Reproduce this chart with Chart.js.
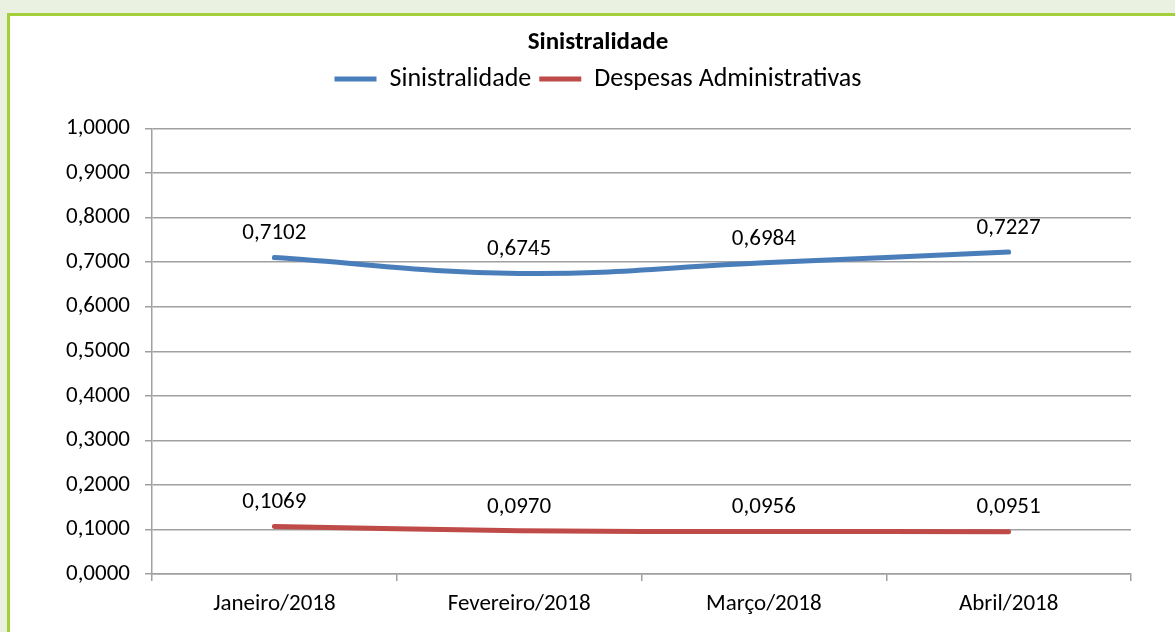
<!DOCTYPE html>
<html>
<head>
<meta charset="utf-8">
<script src="https://cdn.jsdelivr.net/npm/chart.js@4/dist/chart.umd.min.js"></script>
<style>
  html, body { margin: 0; padding: 0; }
  body { width: 1175px; height: 632px; background: #ebf1e0; overflow: hidden; position: relative; }
  .panel {
    position: absolute; left: 7px; top: 13px; width: 1200px; height: 660px;
    background: #fff; border: 3px solid #a3cf3a; border-right: none; border-bottom: none;
  }
  #chart { position: absolute; left: 0; top: 0; }
</style>
</head>
<body>
<div class="panel"></div>
<canvas id="chart" width="1175" height="632"></canvas>
<script>
const months = ['Janeiro/2018', 'Fevereiro/2018', 'Março/2018', 'Abril/2018']
const sinistralidade = [0.7102, 0.6745, 0.6984, 0.7227]
const despesasAdm = [0.1069, 0.0970, 0.0956, 0.0951]
const yTicks = [0, 0.1, 0.2, 0.3, 0.4, 0.5, 0.6, 0.7, 0.8, 0.9, 1.0]

const fontFamily = "Carlito, Lato, sans-serif"
const fmt = v => v.toFixed(4).replace('.', ',')

// data labels above each point, Excel style
const pointLabels = {
    id: 'pointLabels',
    afterDatasetsDraw(chart) {
        const ctx = chart.ctx
        ctx.save()
        ctx.font = `23px ${fontFamily}`
        ctx.fillStyle = '#000'
        ctx.textAlign = 'center'
        ctx.textBaseline = 'middle'
        chart.data.datasets.forEach((ds, i) => {
            chart.getDatasetMeta(i).data.forEach((pt, j) => {
                ctx.fillText(fmt(ds.data[j]), pt.x, pt.y - 24)
            })
        })
        ctx.restore()
    }
}

const ctx = document.getElementById('chart').getContext('2d')
new Chart(ctx, {
    type: 'line',
    data: {
        labels: months,
        datasets: [{
            label: 'Sinistralidade',
            data: sinistralidade,
            borderColor: '#4a7ebb',
            backgroundColor: '#4a7ebb',
            borderWidth: 5,
            borderCapStyle: 'round',
            tension: 0.4,
            pointRadius: 0
        }, {
            label: 'Despesas Administrativas',
            data: despesasAdm,
            borderColor: '#be4b48',
            backgroundColor: '#be4b48',
            borderWidth: 5,
            borderCapStyle: 'round',
            tension: 0.4,
            pointRadius: 0
        }]
    },
    options: {
        responsive: false,
        animation: false,
        layout: { padding: { left: 65, right: 44, top: 0, bottom: 0 } },
        plugins: {
            title: {
                display: true,
                text: 'Sinistralidade',
                color: '#000',
                font: { family: fontFamily, size: 25, weight: 'bold' },
                padding: { top: 28, bottom: 0 }
            },
            legend: {
                display: true,
                labels: {
                    color: '#000',
                    font: { family: fontFamily, size: 26 },
                    usePointStyle: true,
                    pointStyle: 'line',
                    pointStyleWidth: 42,
                    boxHeight: 5,
                    padding: 8
                }
            },
            tooltip: { enabled: false }
        },
        scales: {
            x: {
                offset: true,
                grid: { drawOnChartArea: false, offset: true, tickLength: 7, color: '#a0a0a0', lineWidth: 1.5 },
                border: { color: '#a0a0a0', width: 1.5 },
                ticks: { color: '#000', padding: 9, font: { family: fontFamily, size: 23 } },
                afterFit: s => { s.height = 58 }
            },
            // empty band between legend and plot area
            xTop: {
                type: 'category',
                position: 'top',
                grid: { display: false },
                border: { display: false },
                ticks: { display: false },
                afterFit: s => { s.height = 26.5 }
            },
            y: {
                min: 0,
                max: 1,
                afterBuildTicks: s => { s.ticks = yTicks.map(v => ({ value: v })) },
                grid: { color: '#a0a0a0', lineWidth: 1.5, tickLength: 7 },
                border: { color: '#a0a0a0', width: 1.5 },
                ticks: { color: '#000', padding: 15, font: { family: fontFamily, size: 23 }, callback: v => fmt(v) },
                afterFit: s => { s.width = 87 }
            }
        }
    },
    plugins: [pointLabels]
})
</script>
</body>
</html>
